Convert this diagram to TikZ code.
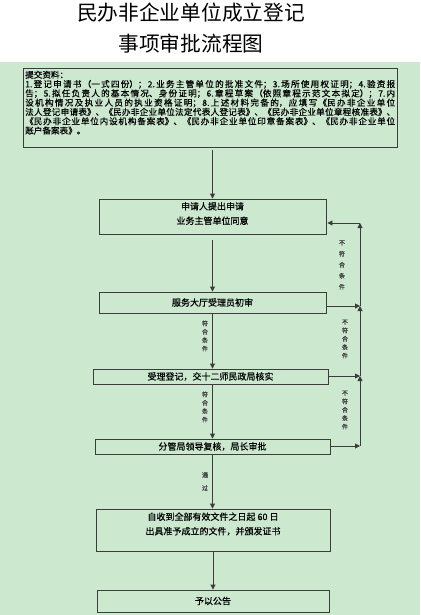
\documentclass[tikz,border=0pt]{standalone}
\usepackage{fontspec}
\setmainfont{Noto Sans CJK SC}
\newfontfamily\cuti[FakeBold=0.4]{Noto Sans CJK SC}
\usetikzlibrary{arrows.meta}
\XeTeXlinebreaklocale "zh"
\XeTeXlinebreakskip=0pt plus 1pt
\definecolor{huyan}{HTML}{CCE8CF}
\definecolor{xiankuang}{HTML}{3C3C3C}
\tikzset{
  kuang/.style={draw=xiankuang,line width=0.9pt,inner sep=0pt,align=center,font=\cuti\fontsize{9}{15}\selectfont},
  wenzi/.style={inner sep=0pt,align=center,font=\cuti\fontsize{9}{14.5}\selectfont},
  jiantou/.style={draw=xiankuang,line width=0.9pt,-{Triangle[length=5pt,width=5pt]}},
  tiaojian/.style={inner sep=0pt,align=center,text=black!75,font=\cuti\fontsize{6}{8.4}\selectfont},
}
\begin{document}
\begin{tikzpicture}[x=1pt,y=-1pt]
  % background
  \useasboundingbox (0,0) rectangle (420,615);
  \fill[white] (0,0) rectangle (420,615);
  \fill[huyan] (0,62) rectangle (420,615);
  % title
  \node[font=\fontsize{20.7}{24}\selectfont] (biaoti1) at (191,13) {民办非企业单位成立登记};
  \node[font=\fontsize{20.7}{24}\selectfont] (biaoti2) at (191,44) {事项审批流程图};
  % materials
  \node[draw=xiankuang,line width=0.9pt,minimum width=374,minimum height=79] (ziliao) at (210,107.5) {};
  \node[anchor=north west,inner sep=0pt,text width=370pt,align=justify,font=\cuti\fontsize{8.6}{9.3}\selectfont] (ziliaowenzi) at (25,70.5)
    {提交资料：\\
     1.登记申请书（一式四份）；2.业务主管单位的批准文件；3.场所使用权证明；4.验资报\linebreak
     告；5.拟任负责人的基本情况、身份证明；6.章程草案（依照章程示范文本拟定）；7.内\linebreak
     设机构情况及执业人员的执业资格证明；8.上述材料完备的，应填写《民办非企业单位\linebreak
     法人登记申请表》、《民办非企业单位法定代表人登记表》、《民办非企业单位章程核准表》、\linebreak
     《民办非企业单位内设机构备案表》、《民办非企业单位印章备案表》、《民办非企业单位\linebreak
     账户备案表》。};
  % flow boxes
  \node[kuang,minimum width=227,minimum height=35] (shenqing) at (212.5,216.5) {};
  \node[wenzi] (shenqingwenzi) at (212.5,213.5) {申请人提出申请\\业务主管单位同意};
  \node[kuang,minimum width=227,minimum height=21] (chushen) at (212.5,302.5) {服务大厅受理员初审};
  \node[kuang,minimum width=235,minimum height=15] (dengji) at (210.5,376.5) {受理登记，交十二师民政局核实};
  \node[kuang,minimum width=235,minimum height=15] (fushen) at (212.5,446.5) {分管局领导复核，局长审批};
  \node[kuang,minimum width=234,minimum height=42] (banzheng) at (213,530) {};
  \node[wenzi] (banzhengwenzi) at (213,524) {自收到全部有效文件之日起 60 日\\出具准予成立的文件，并颁发证书};
  \node[kuang,minimum width=232,minimum height=22] (gonggao) at (213,601) {予以公告};
  % main flow
  \draw[jiantou,shorten <=3pt] (ziliao.south -| shenqing.north) -- (shenqing.north);
  \draw[jiantou,shorten <=6pt] (shenqing.south) -- (chushen.north);
  \draw[jiantou] (chushen.south) -- (chushen.south |- dengji.north);
  \draw[jiantou] (dengji.south -| fushen.north) -- (fushen.north);
  \draw[jiantou] (fushen.south) -- (fushen.south |- banzheng.north);
  \draw[jiantou] (banzheng.south) -- (gonggao.north);
  \node[tiaojian] (fuhe1) at (205,336) {符\\合\\条\\件};
  \node[tiaojian] (fuhe2) at (205,407) {符\\合\\条\\件};
  \node[tiaojian,font=\cuti\fontsize{6}{13}\selectfont] (tongguo) at (205,481.5) {通\\过};
  % return line
  \coordinate (hui0) at (360,223);
  \coordinate (hui2) at (360,306);
  \coordinate (hui3) at (360,376);
  \coordinate (hui4) at (360,446);
  \draw[jiantou,shorten <=1pt] (chushen.east |- hui2) -- (hui2);
  \draw[jiantou,shorten <=1pt] (dengji.east |- hui3) -- (hui3);
  \draw[jiantou,shorten <=1pt] (fushen.east |- hui4) -- (hui4);
  \draw[jiantou] (hui4) -- (hui3);
  \draw[jiantou] (hui3) -- (hui2);
  \draw[jiantou] (hui2) -- (hui0);
  \draw[jiantou,shorten >=1pt] (hui0) -- (shenqing.east |- hui0);
  \node[tiaojian,font=\cuti\fontsize{6}{11}\selectfont] (bufu1) at (342,265) {不\\符\\合\\条\\件};
  \node[tiaojian] (bufu2) at (345,339) {不\\符\\合\\条\\件};
  \node[tiaojian] (bufu3) at (345,410) {不\\符\\合\\条\\件};
\end{tikzpicture}
\end{document}
